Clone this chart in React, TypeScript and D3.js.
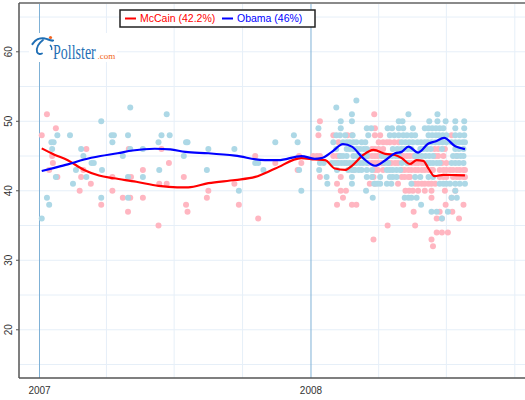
import React from "react";
import * as d3 from "d3";

const width = 525;
const height = 400;

// 2007 polls: [day of year, percent]
const mccainPolls2007: [number, number][] = [
  [3, 48], [10, 51], [22, 49], [17, 45], [18, 44], [13, 43], [24, 42],
  [63, 46], [59, 43], [56, 42], [54, 40], [69, 41], [83, 38],
  [98, 42], [98, 40], [112, 39], [122, 39], [119, 37], [120, 46], [123, 42],
  [139, 43], [139, 39], [164, 46], [160, 35], [161, 41], [171, 41], [174, 44],
  [194, 42], [197, 38], [199, 37], [225, 39], [227, 40], [262, 41], [268, 38],
  [290, 45], [294, 36], [317, 44], [347, 43], [349, 45], [352, 44],
];

const obamaPolls2007: [number, number][] = [
  [3, 36], [10, 39], [13, 38], [16, 47], [19, 47], [17, 46], [24, 48], [22, 42],
  [41, 48], [45, 41], [49, 43], [56, 46], [59, 45], [70, 44], [73, 44], [63, 42],
  [83, 50], [84, 43], [83, 39], [97, 48], [100, 48], [98, 47], [112, 45],
  [119, 48], [122, 52], [119, 42], [119, 39], [122, 46], [139, 46], [139, 42],
  [160, 47], [164, 48], [161, 43], [171, 51], [175, 48], [197, 47], [199, 47], [194, 45],
  [225, 43], [227, 46], [262, 46], [268, 40], [290, 44], [294, 44], [301, 43],
  [317, 47], [342, 48], [347, 47], [349, 43], [352, 40],
];

// 2008 polls grouped by result: [percent, days of year]
const mccainPolls2008: [number, number[]][] = [
  [51, [85]],
  [50, [12]],
  [49, [86]],
  [48, [10, 30, 49, 55, 86, 93, 189]],
  [47, [37, 91, 97, 102, 106, 112, 118]],
  [46, [82, 86, 91, 97, 166, 171, 180]],
  [45, [3, 8, 12, 30, 35, 39, 77, 82, 86, 90, 120, 124, 129, 133, 138, 167, 171, 178, 196]],
  [44, [35, 77, 82, 86, 90, 95, 97, 104, 108, 113, 117, 131, 135, 140, 144, 149, 151, 176, 182]],
  [43, [57, 86, 90, 97, 122, 126, 131, 135, 140, 144, 149, 153, 158, 162, 164, 173, 178, 182, 187, 191, 196, 200, 205, 207]],
  [42, [12, 40, 84, 122, 126, 131, 133, 173, 178, 182, 191, 196, 200, 205, 207]],
  [41, [35, 79, 86, 117, 140, 144, 149, 153, 158, 162, 167]],
  [40, [40, 47, 127, 132, 137, 144, 153, 162, 180, 194]],
  [39, [43, 162, 189]],
  [38, [35, 55, 61, 124, 181, 205]],
  [37, [138, 173, 190]],
  [36, [169, 176, 199]],
  [35, [103, 140]],
  [34, [169, 176, 184]],
  [33, [84, 162]],
  [32, [164]],
];

const obamaPolls2008: [number, number[]][] = [
  [53, [61]],
  [52, [34]],
  [51, [55, 131, 170]],
  [50, [40, 55, 118, 123, 159, 170, 181, 194, 206]],
  [49, [10, 40, 75, 81, 103, 109, 118, 124, 137, 153, 158, 163, 168, 173, 178, 194, 206]],
  [48, [34, 39, 46, 56, 77, 106, 112, 118, 124, 129, 135, 140, 158, 163, 168, 172, 177, 182, 194, 200, 206]],
  [47, [30, 43, 48, 52, 57, 61, 68, 73, 122, 127, 132, 137, 143, 148, 153, 157, 162, 167, 172, 177, 182, 189, 194, 199, 204, 207]],
  [46, [34, 48, 52, 57, 62, 66, 71, 75, 110, 116, 121, 125, 130, 135, 147, 151, 156, 161, 176, 194, 199, 205]],
  [45, [39, 43, 48, 57, 62, 66, 71, 75, 95, 99, 104, 109, 114, 118, 140, 144, 149, 154, 159, 164, 191, 196, 201, 205]],
  [44, [12, 17, 28, 32, 37, 41, 45, 48, 52, 57, 61, 66, 70, 75, 99, 104, 122, 129, 156, 160, 164, 169, 173, 189, 194, 199, 205]],
  [43, [11, 35, 50, 55, 59, 64, 68, 75, 82, 102, 106, 110, 115, 120]],
  [42, [21, 55, 75, 82, 93, 106, 110, 115, 140, 147, 158, 164]],
  [41, [22, 55, 85, 89, 93, 102, 108, 135, 173, 178, 182, 187, 194, 200, 207]],
  [40, [74, 194]],
  [39, [83, 126, 131, 135, 142, 189, 196]],
  [38, [148]],
  [37, [162, 169, 184]],
  [36, [176]],
];

// smoothed trend estimates: [days since 2007-01-01, percent]
const mccainTrend: [number, number][] = [
  [3, 46.1], [20, 45.2], [38, 44.4], [60, 43.0], [80, 42.2], [100, 41.8], [130, 41.3],
  [160, 40.7], [185, 40.5], [200, 40.5], [227, 41.1], [263, 41.55], [290, 42.0], [317, 43.2],
  [352, 44.7], [370, 44.5], [384, 44.4], [397, 43.2], [411, 43.0], [420, 43.6], [435, 45.15],
  [449, 45.9], [465, 45.3], [478, 45.15], [487, 44.7], [498, 43.85], [507, 44.4], [516, 44.3],
  [523, 43.2], [531, 42.1], [543, 42.3], [559, 42.25], [572, 42.2],
];

const obamaTrend: [number, number][] = [
  [3, 42.85], [20, 43.3], [38, 43.8], [60, 44.5], [82, 45.0], [105, 45.4], [125, 45.8],
  [155, 46.05], [176, 45.95], [196, 45.6], [227, 45.4], [263, 45.05], [303, 44.4], [321, 44.4],
  [352, 45.0], [370, 44.6], [379, 44.7], [393, 45.6], [408, 46.7], [420, 46.35], [435, 44.7],
  [451, 43.6], [465, 44.4], [478, 45.4], [487, 45.6], [496, 46.35], [509, 45.5], [523, 46.8],
  [532, 47.1], [544, 47.6], [559, 46.4], [572, 46.0],
];

const yTicks = [20, 30, 40, 50, 60];
const yGrid = [15, 20, 25, 30, 35, 40, 45, 50, 55, 60, 65];
const years = [2007, 2008];

const candidates = [
  { name: "McCain", latest: 42.2, line: "#ff0000", dot: "#ffb6c1" },
  { name: "Obama", latest: 46, line: "#0000ff", dot: "#add8e6" },
];

const day = (year: number, d: number) => d3.timeDay.offset(new Date(year, 0, 1), d);

const plot = { left: 19, right: 525, top: 3, bottom: 378 };

const x = d3
  .scaleTime()
  .domain([new Date(2006, 11, 4, 10, 30), new Date(2008, 9, 14, 17)])
  .range([plot.left, plot.right]);

const y = d3.scaleLinear().domain([13.06, 67.02]).range([plot.bottom, plot.top]);

const flatten = (rows: [number, number[]][]) =>
  rows.flatMap(([pct, days]) => days.map((d) => [d, pct] as [number, number]));

const trendLine = d3
  .line<[number, number]>()
  .x((d) => x(day(2007, d[0])))
  .y((d) => y(d[1]))
  .curve(d3.curveMonotoneX);

const App = () => {
  const quarters = x.ticks(d3.timeMonth.every(3)!);
  const font = "'Liberation Sans', Arial, sans-serif";
  const logoFont = "'Liberation Serif', serif";

  const dots = (polls2007: [number, number][], rows2008: [number, number[]][], fill: string) => (
    <g fill={fill}>
      {polls2007.map((d, i) => (
        <circle key={`a${i}`} cx={x(day(2007, d[0]))} cy={y(d[1])} r={3} />
      ))}
      {flatten(rows2008).map((d, i) => (
        <circle key={`b${i}`} cx={x(day(2008, d[0]))} cy={y(d[1])} r={3} />
      ))}
    </g>
  );

  return (
    <svg
      width={width}
      height={height}
      style={{ position: "absolute", left: 0, top: 0, background: "#fff" }}
      fontFamily={font}
    >
      {/* grid */}
      {yGrid.map((v) => (
        <line key={v} x1={plot.left} x2={plot.right} y1={y(v)} y2={y(v)} stroke="#e6eff8" />
      ))}
      {quarters.map((q) => (
        <line
          key={+q}
          x1={x(q)}
          x2={x(q)}
          y1={plot.top}
          y2={plot.bottom}
          stroke={q.getMonth() === 0 ? "#7fb1d6" : "#e6eff8"}
        />
      ))}

      {/* poll results */}
      {dots(mccainPolls2007, mccainPolls2008, candidates[0].dot)}
      {dots(obamaPolls2007, obamaPolls2008, candidates[1].dot)}

      {/* trend lines */}
      <path d={trendLine(mccainTrend) || ""} fill="none" stroke={candidates[0].line} strokeWidth={2.2} />
      <path d={trendLine(obamaTrend) || ""} fill="none" stroke={candidates[1].line} strokeWidth={2.2} />

      {/* frame and axes */}
      <line x1={plot.left} x2={plot.right} y1={plot.top} y2={plot.top} stroke="#8a8a8a" strokeWidth={2} />
      <line x1={plot.left} x2={plot.right} y1={plot.bottom} y2={plot.bottom} stroke="#555" strokeWidth={1.5} />
      <line x1={plot.left} x2={plot.left} y1={plot.top} y2={plot.bottom} stroke="#555" strokeWidth={1.5} />
      {yTicks.map((v) => (
        <g key={v}>
          <line x1={plot.left - 3} x2={plot.left} y1={y(v)} y2={y(v)} stroke="#555" />
          <text
            transform={`translate(12,${y(v)}) rotate(-90)`}
            textAnchor="middle"
            fontSize={10}
            fill="#333"
          >
            {v}
          </text>
        </g>
      ))}
      {years.map((yr) => (
        <text key={yr} x={x(new Date(yr, 0, 1))} y={394} textAnchor="middle" fontSize={10} fill="#333">
          {yr}
        </text>
      ))}

      {/* logo */}
      <rect x={29} y={33} width={88} height={29} fill="#fff" />
      <path
        d="M32.5,44 C35,40 40,37.5 45,38.5 C48,39 50,41 53,40.5"
        fill="none"
        stroke="#1f6fb5"
        strokeWidth={2.2}
        strokeLinecap="round"
      />
      <path
        d="M43,40 C39,43 36,47 37,52 C38,54 40,54.5 42,53.5"
        fill="none"
        stroke="#1f6fb5"
        strokeWidth={1.8}
        strokeLinecap="round"
      />
      <path d="M50,45 C51.5,46.5 52,48.5 51.5,50" fill="none" stroke="#1f6fb5" strokeWidth={1.4} />
      <circle cx={50.5} cy={37.5} r={1.6} fill="#f26522" />
      <text
        transform="translate(53,58.5) scale(0.7,1)"
        fontFamily={logoFont}
        fontSize={20}
        fill="#1f6fb5"
      >
        Pollster
      </text>
      <text x={97.5} y={58.5} fontFamily={logoFont} fontSize={9} fill="#f26522">
        .com
      </text>

      {/* legend */}
      <rect x={120} y={10} width={195} height={17} fill="#fff" stroke="#222" strokeWidth={1.5} />
      {candidates.map((c, i) => {
        const lx = i === 0 ? 125 : 222;
        return (
          <g key={c.name}>
            <line x1={lx} x2={lx + 11} y1={18.5} y2={18.5} stroke={c.line} strokeWidth={2} />
            <text x={lx + 15} y={22.3} fontSize={10.5} fill={c.line}>
              {`${c.name} (${c.latest}%)`}
            </text>
          </g>
        );
      })}
    </svg>
  );
};

export default App;
